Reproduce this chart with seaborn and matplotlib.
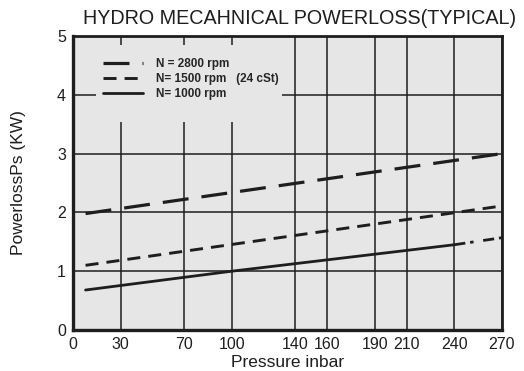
import matplotlib
matplotlib.use('Agg')
import matplotlib.pyplot as plt
import matplotlib.patches as mpatches
import seaborn as sns

# Data
pressure_ticks = [0, 30, 70, 100, 140, 160, 190, 210, 240, 270]
power_ticks = [0, 1, 2, 3, 4, 5]

p_2800 = [8, 270]
ps_2800 = [1.98, 3.0]

p_1500 = [8, 270]
ps_1500 = [1.1, 2.11]

p_1000 = [8, 100, 240]
ps_1000 = [0.68, 1.0, 1.45]

p_1000_ext = [240, 270]
ps_1000_ext = [1.45, 1.57]

labels = ['N = 2800 rpm', 'N= 1500 rpm   (24 cSt)', 'N= 1000 rpm']

sns.set_style('white')
plt.rcParams['font.family'] = ['Liberation Sans', 'DejaVu Sans']
plt.rcParams['lines.scale_dashes'] = False

bg = '#e6e6e6'
ink = '#1e1e1e'

fig = plt.figure(figsize=(5.24, 3.71), dpi=100)
ax = fig.add_axes([0.139, 0.1105, 0.819, 0.7925])
ax.set_facecolor(bg)

sns.lineplot(x=p_2800, y=ps_2800, ax=ax, color=ink, linewidth=2.3, zorder=3)
ax.lines[-1].set_dashes([18.7, 9.4])
sns.lineplot(x=p_1500, y=ps_1500, ax=ax, color=ink, linewidth=2.1, zorder=3)
ax.lines[-1].set_dashes([9.4, 5.8])
sns.lineplot(x=p_1000, y=ps_1000, ax=ax, color=ink, linewidth=2.0, zorder=3)
sns.lineplot(x=p_1000_ext, y=ps_1000_ext, ax=ax, color=ink, linewidth=2.0, zorder=3)
ax.lines[-1].set_dashes([8, 3.5, 2.5, 7])

ax.set_xlim(0, 270)
ax.set_ylim(0, 5)
ax.set_xticks(pressure_ticks)
ax.set_yticks(power_ticks)
ax.tick_params(length=0, labelsize=11.5, colors=ink, pad=5)

ax.set_axisbelow(True)
ax.grid(True, color=ink, linewidth=1.1)

# patch behind the legend hides the grid there
cover = mpatches.Rectangle((0.054, 0.707), 0.433, 0.262, transform=ax.transAxes,
                           facecolor=bg, edgecolor='none', zorder=1)
ax.add_patch(cover)

leg = ax.legend(ax.lines[:3], labels, loc='upper left', bbox_to_anchor=(0.045, 0.96),
                frameon=False, prop={'weight': 'bold', 'size': 8.5},
                handlelength=3.4, handletextpad=1.1, labelspacing=0.25)
leg.set_zorder(4)

for s in ax.spines.values():
    s.set_visible(True)
    s.set_color(ink)
    s.set_linewidth(2.0)
ax.spines['bottom'].set_linewidth(2.4)
ax.spines['left'].set_linewidth(2.4)

ax.set_xlabel('Pressure inbar', fontsize=12.5, color=ink, labelpad=2)
ax.set_ylabel('PowerlossPs (KW)', fontsize=12.5, color=ink, labelpad=22)
fig.text(300 / 524, 1 - 18 / 371, 'HYDRO MECAHNICAL POWERLOSS(TYPICAL)',
         fontsize=14.2, color=ink, ha='center', va='center')

fig.savefig('out.png', dpi=100, facecolor='white')
